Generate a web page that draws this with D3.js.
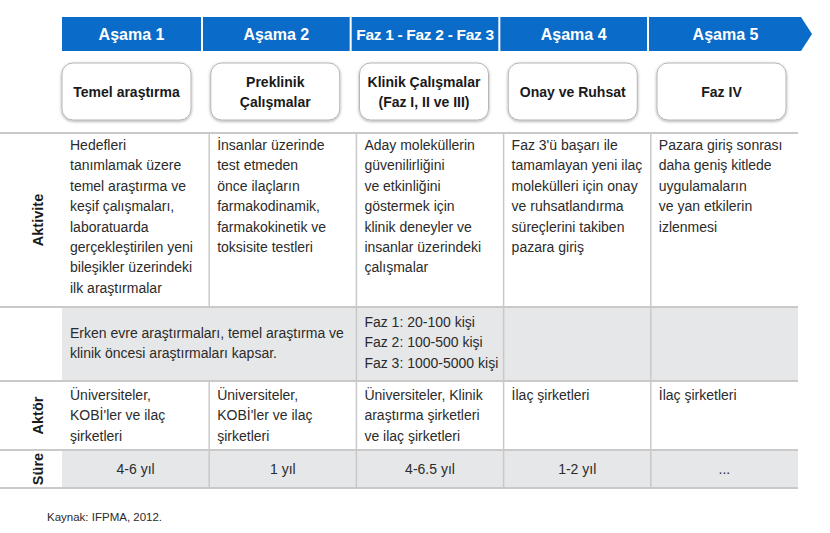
<!DOCTYPE html>
<html lang="tr">
<head>
    <meta charset="UTF-8">
    <title>İlaç geliştirme aşamaları</title>
    <script src="https://d3js.org/d3.v7.min.js"></script>
</head>
<body style="margin: 0px; background: #fff;">

    <script>

        var phases=['Aşama 1','Aşama 2','Faz 1 - Faz 2 - Faz 3','Aşama 4','Aşama 5'];
        var stages=[['Temel araştırma'],['Preklinik','Çalışmalar'],['Klinik Çalışmalar','(Faz I, II ve III)'],
            ['Onay ve Ruhsat'],['Faz IV']];
        var activities=[
            ['Hedefleri','tanımlamak üzere','temel araştırma ve','keşif çalışmaları,','laboratuarda',
                'gerçekleştirilen yeni','bileşikler üzerindeki','ilk araştırmalar'],
            ['İnsanlar üzerinde','test etmeden','önce ilaçların','farmakodinamik,','farmakokinetik ve','toksisite testleri'],
            ['Aday moleküllerin','güvenilirliğini','ve etkinliğini','göstermek için','klinik deneyler ve',
                'insanlar üzerindeki','çalışmalar'],
            ['Faz 3\'ü başarı ile','tamamlayan yeni ilaç','molekülleri için onay','ve ruhsatlandırma',
                'süreçlerini takiben','pazara giriş'],
            ['Pazara giriş sonrası','daha geniş kitlede','uygulamaların','ve yan etkilerin','izlenmesi']
        ];
        var scopeEarly=['Erken evre araştırmaları, temel araştırma ve','klinik öncesi araştırmaları kapsar.'];
        var scopeClinical=['Faz 1: 20-100 kişi','Faz 2: 100-500 kişi','Faz 3: 1000-5000 kişi'];
        var actors=[['Üniversiteler,','KOBİ\'ler ve ilaç','şirketleri'],['Üniversiteler,','KOBİ\'ler ve ilaç','şirketleri'],
            ['Üniversiteler, Klinik','araştırma şirketleri','ve ilaç şirketleri'],['İlaç şirketleri'],['İlaç şirketleri']];
        var durations=['4-6 yıl','1 yıl','4-6.5 yıl','1-2 yıl','...'];
        var rowLabels=['Aktivite','','Aktör','Süre'];
        var source='Kaynak: IFPMA, 2012.';

        var width=830, height=533;
        var blue='#0b6bc8', grid='#c9c9c9', shade='#e6e7e9', ink='#2b2b2b';
        var font='"Liberation Sans", Arial, sans-serif';

        var svg=d3.select('body').append('svg')
                .attr('width',width)
                .attr('height',height)
                .style('font-family',font);

        var idx=d3.range(phases.length);
        // table columns
        var x=d3.scaleBand().domain(idx).range([62,798]);
        // header separators and boxes
        var sep=d3.scaleLinear().domain([1,4]).range([202,648]);
        var boxX=d3.scaleLinear().domain([0,4]).range([62,657]);
        // rows
        var rowY=[133,307,381,450,488];

        var defs=svg.append('defs');
        var f=defs.append('filter').attr('id','shadow').attr('x','-10%').attr('y','-10%')
                .attr('width','130%').attr('height','130%');
        f.append('feDropShadow').attr('dx',0).attr('dy',1).attr('stdDeviation',1.6)
                .attr('flood-color','#000').attr('flood-opacity',0.35);

        // blue header arrow
        var barTop=17, barBot=51, tipX=812, endX=801;
        svg.append('path')
                .attr('d','M62,'+barTop+'H'+endX+'L'+tipX+','+((barTop+barBot)/2)+'L'+endX+','+barBot+'H62Z')
                .attr('fill',blue);
        svg.selectAll('line.hsep').data([1,2,3,4]).enter().append('line')
                .attr('class','hsep')
                .attr('x1',function(d){return sep(d);}).attr('x2',function(d){return sep(d);})
                .attr('y1',barTop).attr('y2',barBot)
                .attr('stroke','#fff').attr('stroke-width',2);
        var hCenter=function(i){
            var l=i==0?62:sep(i)+1, r=i==4?802:sep(i+1)-1;
            return (l+r)/2;
        };
        svg.selectAll('text.phase').data(phases).enter().append('text')
                .attr('class','phase')
                .attr('x',function(d,i){return hCenter(i);})
                .attr('y',40)
                .attr('text-anchor','middle')
                .attr('fill','#fff')
                .attr('font-weight','bold')
                .attr('font-size',function(d){return d.length>12?'15.5px':'16px';})
                .attr('letter-spacing',function(d){return d.length>12?'-0.3px':'0px';})
                .text(function(d){return d;});

        // rounded stage boxes
        var boxes=svg.selectAll('g.stage').data(stages).enter().append('g')
                .attr('class','stage')
                .attr('transform',function(d,i){return 'translate('+boxX(i)+',63)';});
        boxes.append('rect')
                .attr('width',129).attr('height',57).attr('rx',11)
                .attr('fill','#fff').attr('stroke','#b5b5b5').attr('stroke-width',1)
                .attr('filter','url(#shadow)');
        boxes.each(function(d){
            var g=d3.select(this);
            var y0=28.5-(d.length-1)*10+5;
            d.forEach(function(line,k){
                g.append('text').attr('x',64.5).attr('y',y0+k*20)
                        .attr('text-anchor','middle')
                        .attr('font-weight','bold').attr('font-size','14px')
                        .attr('fill','#1a1a1a')
                        .text(line);
            });
        });

        // shaded rows
        svg.selectAll('rect.shade').data([1,3]).enter().append('rect')
                .attr('class','shade')
                .attr('x',62).attr('y',function(d){return rowY[d];})
                .attr('width',798-62).attr('height',function(d){return rowY[d+1]-rowY[d];})
                .attr('fill',shade);

        // horizontal rules
        svg.selectAll('line.hrule').data(rowY).enter().append('line')
                .attr('class','hrule')
                .attr('x1',0).attr('x2',798)
                .attr('y1',function(d){return d;}).attr('y2',function(d){return d;})
                .attr('stroke',grid).attr('stroke-width',2);

        // vertical rules (second row merges first two columns)
        var vrules=[];
        idx.slice(1).forEach(function(i){
            for(var r=0;r<4;r++){
                if(r==1 && i==1) continue;
                vrules.push({x:x(i),y1:rowY[r]+1,y2:rowY[r+1]-1});
            }
        });
        svg.selectAll('line.vrule').data(vrules).enter().append('line')
                .attr('class','vrule')
                .attr('x1',function(d){return d.x;}).attr('x2',function(d){return d.x;})
                .attr('y1',function(d){return d.y1;}).attr('y2',function(d){return d.y2;})
                .attr('stroke',grid).attr('stroke-width',1.5);

        // row labels
        svg.selectAll('text.rowlabel').data(rowLabels).enter().append('text')
                .attr('class','rowlabel')
                .attr('transform',function(d,i){
                    return 'translate(43,'+((rowY[i]+rowY[i+1])/2)+') rotate(-90)';
                })
                .attr('text-anchor','middle')
                .attr('font-weight','bold').attr('font-size','14.5px')
                .attr('fill','#1a1a1a')
                .text(function(d){return d;});

        function block(lines,x0,y0,anchor){
            lines.forEach(function(line,k){
                svg.append('text').attr('x',x0).attr('y',y0+k*20.4)
                        .attr('text-anchor',anchor||'start')
                        .attr('font-size','14px')
                        .attr('fill',ink)
                        .text(line);
            });
        }

        activities.forEach(function(lines,i){ block(lines,x(i)+8,150); });
        block(scopeEarly,x(0)+8,338);
        block(scopeClinical,x(2)+8,327);
        actors.forEach(function(lines,i){ block(lines,x(i)+8,400); });
        durations.forEach(function(d,i){ block([d],x(i)+x.bandwidth()/2,474,'middle'); });

        svg.append('text').attr('x',47).attr('y',521)
                .attr('font-size','11.5px').attr('fill',ink)
                .text(source);
    </script>
</body>
</html>
